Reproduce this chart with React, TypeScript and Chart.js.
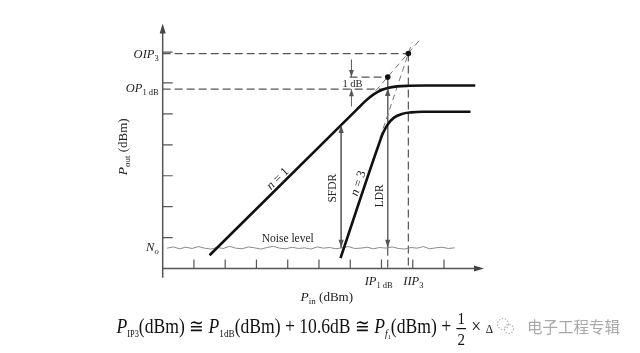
import React, { useEffect, useRef } from "react";
import { Chart, registerables } from "chart.js";
Chart.register(...registerables);

// ---- data (grid units: one tick = 1) ----
const xTicks = [1, 2, 3, 4, 5, 6, 7, 8, 9];
const yTicks = [1, 2, 3, 4, 5, 6, 7];

const n1X = [1.5, 6.2, 6.5, 6.75, 6.95, 7.2, 7.5, 7.9, 8.4, 10.0];
const n1Y = [0.43, 5.13, 5.43, 5.63, 5.75, 5.84, 5.89, 5.91, 5.92, 5.92];

const n3X = [5.69, 6.9, 7.05, 7.2, 7.4, 7.65, 7.95, 8.3, 9.85];
const n3Y = [0.34, 3.97, 4.38, 4.66, 4.88, 5.0, 5.05, 5.07, 5.07];

const n1ExtX = [6.6, 8.25];
const n1ExtY = [5.5, 7.42];
const n3ExtX = [6.95, 7.98];
const n3ExtY = [4.22, 7.31];

const noiseX = [0.14, 0.34, 0.54, 0.74, 0.94, 1.14, 1.34, 1.54, 1.74, 1.94, 2.14, 2.34, 2.54, 2.74, 2.94, 3.14, 3.34, 3.54, 3.74, 3.94, 4.14, 4.34, 4.54, 4.74, 4.94, 5.14, 5.34, 5.54, 5.74, 5.94, 6.14, 6.34, 6.54, 6.74, 6.94, 7.14, 7.34, 7.54, 7.74, 7.94, 8.14, 8.34, 8.54, 8.74, 8.94, 9.14, 9.34];
const noiseY = [0.66, 0.7, 0.64, 0.69, 0.65, 0.71, 0.66, 0.63, 0.68, 0.65, 0.72, 0.66, 0.64, 0.7, 0.67, 0.63, 0.68, 0.72, 0.66, 0.64, 0.69, 0.65, 0.67, 0.63, 0.7, 0.66, 0.68, 0.64, 0.67, 0.71, 0.65, 0.66, 0.69, 0.64, 0.68, 0.66, 0.7, 0.65, 0.63, 0.68, 0.66, 0.71, 0.64, 0.67, 0.69, 0.65, 0.67];

const OIP3 = 6.95;
const IIP3 = 7.86;
const OP1DB = 5.8;
const IP1DB = 7.2;
const IDEAL1DB = 6.19;
const CURVE1DB = 5.84;
const NOISE = 0.67;
const SFDR_X = 5.71;
const SFDR_TOP = 4.64;
const DB_MARK_X = 6.04;
const DB_MARK_TOP = 6.75;
const DB_MARK_BOT = 5.24;
const OP1DB_DASH_END = 7.05;
const DB_DASH_START = 5.98;

const SERIF = '"Liberation Serif", "DejaVu Serif", serif';
const CJK = '"Noto Sans CJK SC", "Noto Sans", sans-serif';

const zip = (xs: number[], ys: number[]) => xs.map((x, i) => ({ x, y: ys[i] }));

type Run = { t: string; f: string; dy?: number };

function runsWidth(ctx: CanvasRenderingContext2D, runs: Run[]) {
  let w = 0;
  for (const r of runs) {
    ctx.font = r.f;
    w += ctx.measureText(r.t).width;
  }
  return w;
}

function drawRuns(ctx: CanvasRenderingContext2D, runs: Run[], x: number, y: number, align: "left" | "right" | "center") {
  const w = runsWidth(ctx, runs);
  let cx = align === "left" ? x : align === "right" ? x - w : x - w / 2;
  ctx.textBaseline = "alphabetic";
  ctx.textAlign = "left";
  for (const r of runs) {
    ctx.font = r.f;
    ctx.fillText(r.t, cx, y + (r.dy || 0));
    cx += ctx.measureText(r.t).width;
  }
  return w;
}

function arrowHead(ctx: CanvasRenderingContext2D, x: number, y: number, dir: "up" | "down" | "right", len: number, hw: number, color: string) {
  ctx.save();
  ctx.fillStyle = color;
  ctx.beginPath();
  if (dir === "up") {
    ctx.moveTo(x, y);
    ctx.lineTo(x - hw, y + len);
    ctx.lineTo(x + hw, y + len);
  } else if (dir === "down") {
    ctx.moveTo(x, y);
    ctx.lineTo(x - hw, y - len);
    ctx.lineTo(x + hw, y - len);
  } else {
    ctx.moveTo(x, y);
    ctx.lineTo(x - len, y - hw);
    ctx.lineTo(x - len, y + hw);
  }
  ctx.closePath();
  ctx.fill();
  ctx.restore();
}

const decorPlugin = {
  id: "decor",
  afterDatasetsDraw(chart: any) {
    const ctx: CanvasRenderingContext2D = chart.ctx;
    const xs = chart.scales.x;
    const ys = chart.scales.y;
    const px = (v: number) => xs.getPixelForValue(v);
    const py = (v: number) => ys.getPixelForValue(v);
    const x0 = px(0);
    const y0 = py(0);
    ctx.save();

    // axes
    ctx.strokeStyle = "#555";
    ctx.lineWidth = 1.5;
    ctx.beginPath();
    ctx.moveTo(x0, py(-0.3));
    ctx.lineTo(x0, py(7.75));
    ctx.moveTo(x0, y0);
    ctx.lineTo(px(10.15), y0);
    ctx.stroke();
    arrowHead(ctx, x0, py(7.92), "up", 10, 3, "#444");
    arrowHead(ctx, px(10.28), y0, "right", 10, 3, "#444");

    // ticks
    ctx.lineWidth = 1.2;
    ctx.strokeStyle = "#555";
    ctx.beginPath();
    for (const t of yTicks) {
      ctx.moveTo(x0, py(t));
      ctx.lineTo(x0 + 10, py(t));
    }
    for (const t of xTicks) {
      ctx.moveTo(px(t), y0);
      ctx.lineTo(px(t), y0 - 9);
    }
    ctx.stroke();

    // arrow heads of dimension lines
    const ac = "#555";
    arrowHead(ctx, px(SFDR_X), py(SFDR_TOP), "up", 8, 2.6, ac);
    arrowHead(ctx, px(SFDR_X), py(NOISE), "down", 8, 2.6, ac);
    arrowHead(ctx, px(IP1DB), py(CURVE1DB), "up", 8, 2.6, ac);
    arrowHead(ctx, px(IP1DB), py(NOISE), "down", 8, 2.6, ac);
    arrowHead(ctx, px(DB_MARK_X), py(IDEAL1DB), "down", 7, 2.4, ac);
    arrowHead(ctx, px(DB_MARK_X), py(OP1DB), "up", 7, 2.4, ac);

    // left labels
    ctx.fillStyle = "#222";
    const lx = x0 - 4;
    drawRuns(ctx, [
      { t: "OIP", f: `italic 12.5px ${SERIF}` },
      { t: "3", f: `8.5px ${SERIF}`, dy: 3 },
    ], lx, py(OIP3) + 4, "right");
    drawRuns(ctx, [
      { t: "OP", f: `italic 12.5px ${SERIF}` },
      { t: "1 dB", f: `8.5px ${SERIF}`, dy: 3 },
    ], lx, py(OP1DB) + 3, "right");
    drawRuns(ctx, [
      { t: "N", f: `italic 12.5px ${SERIF}` },
      { t: "o", f: `italic 8.5px ${SERIF}`, dy: 3 },
    ], lx, py(NOISE) + 3, "right");

    // y title
    ctx.save();
    ctx.translate(x0 - 40, py(4) + 2);
    ctx.rotate(-Math.PI / 2);
    drawRuns(ctx, [
      { t: "P", f: `italic 13.5px ${SERIF}` },
      { t: "out", f: `9px ${SERIF}`, dy: 3 },
      { t: " (dBm)", f: `13px ${SERIF}` },
    ], 0, 4, "center");
    ctx.restore();

    // x title
    drawRuns(ctx, [
      { t: "P", f: `italic 13.5px ${SERIF}` },
      { t: "in", f: `9px ${SERIF}`, dy: 3 },
      { t: " (dBm)", f: `13px ${SERIF}` },
    ], px(5.25), y0 + 32, "center");

    // x special labels
    drawRuns(ctx, [
      { t: "IP", f: `italic 12.5px ${SERIF}` },
      { t: "1 dB", f: `8.5px ${SERIF}`, dy: 3 },
    ], px(IP1DB) - 9, y0 + 16, "center");
    drawRuns(ctx, [
      { t: "IIP", f: `italic 12.5px ${SERIF}` },
      { t: "3", f: `8.5px ${SERIF}`, dy: 3 },
    ], px(IIP3) + 5, y0 + 16, "center");

    // 1 dB label
    drawRuns(ctx, [{ t: "1 dB", f: `10.5px ${SERIF}` }], px(DB_MARK_X) + 1, (py(IDEAL1DB) + py(OP1DB)) / 2 + 3.5, "center");

    // Noise level
    drawRuns(ctx, [{ t: "Noise level", f: `11.5px ${SERIF}` }], px(4.0), py(NOISE) - 6, "center");

    // n = 1
    ctx.save();
    ctx.translate(px(3.67), py(2.92));
    ctx.rotate(-Math.atan2(py(0) - py(1), px(1) - px(0)));
    drawRuns(ctx, [
      { t: "n", f: `italic 12.5px ${SERIF}` },
      { t: " = 1", f: `12.5px ${SERIF}` },
    ], 0, 4, "center");
    ctx.restore();

    // n = 3
    ctx.save();
    ctx.translate(px(6.24), py(2.76));
    ctx.rotate(-Math.atan2((py(0) - py(3)), px(1) - px(0)));
    drawRuns(ctx, [
      { t: "n", f: `italic 12.5px ${SERIF}` },
      { t: " = 3", f: `12.5px ${SERIF}` },
    ], 0, 4, "center");
    ctx.restore();

    // SFDR, LDR
    ctx.save();
    ctx.translate(px(SFDR_X) - 9, py(2.6));
    ctx.rotate(-Math.PI / 2);
    drawRuns(ctx, [{ t: "SFDR", f: `11.5px ${SERIF}` }], 0, 4, "center");
    ctx.restore();
    ctx.save();
    ctx.translate(px(IP1DB) - 9, py(2.35));
    ctx.rotate(-Math.PI / 2);
    drawRuns(ctx, [{ t: "LDR", f: `11.5px ${SERIF}` }], 0, 4, "center");
    ctx.restore();

    // formula
    ctx.fillStyle = "#111";
    const F = `20px ${SERIF}`;
    const FI = `italic 20px ${SERIF}`;
    const S = `10.5px ${SERIF}`;
    const partA: Run[] = [
      { t: "P", f: FI },
      { t: "IP3", f: `9.5px ${SERIF}`, dy: 4 },
      { t: "(dBm) \u2245 ", f: F },
      { t: "P", f: FI },
      { t: "1dB", f: S, dy: 4 },
      { t: "(dBm) + 10.6dB \u2245 ", f: F },
      { t: "P", f: FI },
      { t: "f", f: `italic 11px ${SERIF}`, dy: 4 },
      { t: "1", f: `7px ${SERIF}`, dy: 6 },
      { t: "(dBm) + ", f: F },
    ];
    const partC: Run[] = [
      { t: " \u00D7 ", f: F },
      { t: "\u0394", f: `13px ${SERIF}` },
    ];
    const fracW = 13;
    const wA = runsWidth(ctx, partA);
    const wC = runsWidth(ctx, partC);
    const total = wA + fracW + wC;
    const fx0 = 116.5;
    const fx1 = 493;
    const base = 333;
    ctx.save();
    ctx.translate(fx0, 0);
    ctx.scale((fx1 - fx0) / total, 1);
    drawRuns(ctx, partA, 0, base, "left");
    ctx.font = `17px ${SERIF}`;
    ctx.textAlign = "center";
    ctx.fillText("1", wA + fracW / 2, 324);
    ctx.fillText("2", wA + fracW / 2, 345);
    ctx.fillRect(wA + 1, 328, fracW - 2, 1.2);
    drawRuns(ctx, partC, wA + fracW, base, "left");
    ctx.restore();

    // watermark
    ctx.strokeStyle = "#b8b8b8";
    ctx.lineWidth = 1.2;
    ctx.setLineDash([1.5, 1.5]);
    ctx.beginPath();
    ctx.arc(503, 324, 5.5, 0, Math.PI * 2);
    ctx.stroke();
    ctx.beginPath();
    ctx.arc(509, 329, 4.5, 0, Math.PI * 2);
    ctx.stroke();
    ctx.setLineDash([]);
    ctx.fillStyle = "#a8a8a8";
    ctx.font = `15.5px ${CJK}`;
    ctx.textAlign = "left";
    ctx.textBaseline = "middle";
    ctx.fillText("电子工程专辑", 527, 327);

    ctx.restore();
  },
};

export default function App() {
  const ref = useRef<HTMLCanvasElement | null>(null);
  useEffect(() => {
    if (!ref.current) return;
    const U = 31.65;
    const OX = 160.7;
    const OY = 270.7;
    const dashed = (data: any[], color = "#555", w = 1.2, dash = [8, 4]) => ({
      data,
      borderColor: color,
      borderWidth: w,
      borderDash: dash,
      pointRadius: 0,
      tension: 0,
      fill: false,
    });
    const solid = (data: any[], color: string, w: number, extra: any = {}) => ({
      data,
      borderColor: color,
      borderWidth: w,
      pointRadius: 0,
      tension: 0,
      fill: false,
      ...extra,
    });
    const chart = new Chart(ref.current, {
      type: "line",
      data: {
        datasets: [
          {
            type: "scatter",
            data: [
              { x: IP1DB, y: IDEAL1DB },
              { x: IIP3, y: OIP3 },
            ],
            pointRadius: 2.8,
            pointBackgroundColor: "#111",
            pointBorderWidth: 0,
            showLine: false,
          } as any,
          solid(zip(n1X, n1Y), "#111", 2.6, { cubicInterpolationMode: "monotone" }),
          solid(zip(n3X, n3Y), "#111", 2.6, { cubicInterpolationMode: "monotone" }),
          solid(zip(noiseX, noiseY), "#8a8a8a", 1),
          dashed(zip(n1ExtX, n1ExtY), "#777", 1, [6, 4]),
          dashed(zip(n3ExtX, n3ExtY), "#777", 1, [6, 4]),
          dashed([{ x: 0, y: OIP3 }, { x: IIP3, y: OIP3 }]),
          dashed([{ x: 0, y: OP1DB }, { x: OP1DB_DASH_END, y: OP1DB }]),
          dashed([{ x: DB_DASH_START, y: IDEAL1DB }, { x: IP1DB, y: IDEAL1DB }]),
          dashed([{ x: IIP3, y: OIP3 }, { x: IIP3, y: 0 }]),
          dashed([{ x: IP1DB, y: NOISE }, { x: IP1DB, y: 0 }]),
          solid([{ x: SFDR_X, y: SFDR_TOP }, { x: SFDR_X, y: NOISE }], "#666", 1),
          solid([{ x: IP1DB, y: IDEAL1DB }, { x: IP1DB, y: NOISE }], "#666", 1),
          solid([{ x: DB_MARK_X, y: DB_MARK_TOP }, { x: DB_MARK_X, y: IDEAL1DB }], "#666", 1),
          solid([{ x: DB_MARK_X, y: DB_MARK_BOT }, { x: DB_MARK_X, y: OP1DB }], "#666", 1),
        ],
      },
      options: {
        responsive: false,
        animation: false,
        devicePixelRatio: 1,
        layout: { padding: 0 },
        plugins: { legend: { display: false }, tooltip: { enabled: false }, title: { display: false } },
        events: [],
        scales: {
          x: { type: "linear", display: false, min: -OX / U, max: (640 - OX) / U },
          y: { type: "linear", display: false, min: -(353 - OY) / U, max: OY / U },
        },
      },
      plugins: [decorPlugin],
    } as any);
    return () => chart.destroy();
  }, []);
  return (
    <div style={{ position: "absolute", left: 0, top: 0, width: 640, height: 353, background: "#fff" }}>
      <canvas ref={ref} width={640} height={353} style={{ display: "block" }} />
    </div>
  );
}
